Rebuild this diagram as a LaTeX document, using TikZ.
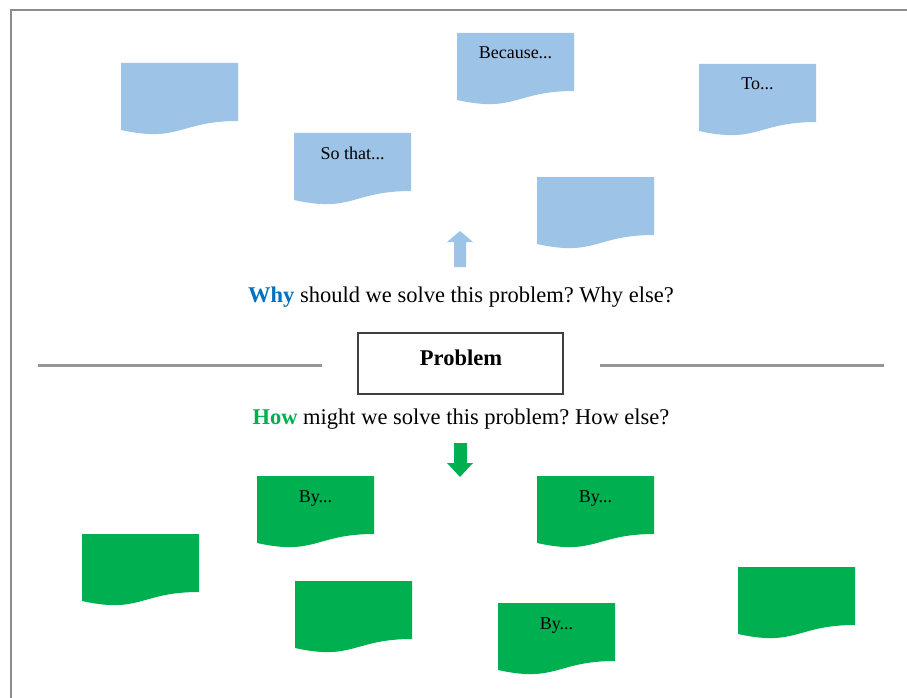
\documentclass[tikz,border=0pt]{standalone}
\usepackage{fontspec}
\setmainfont{Liberation Serif}
\usepackage{xcolor}
\usepackage{tikz}
\frenchspacing

\definecolor{whyblue}{HTML}{0070C0}
\definecolor{sheetblue}{HTML}{9DC3E6}
\definecolor{sheetgreen}{HTML}{00B050}
\definecolor{frameg}{RGB}{140,140,140}
\definecolor{lineg}{RGB}{150,150,150}

\newcommand{\docsheet}[5]{%
  \begin{scope}[shift={(#2,#3)}]
    \fill[#4] (0,0) -- (117,0) -- (117,58) .. controls (58.5,58) and (58.5,80) .. (0,67) -- cycle;
    \node[sheettext] (#1) at (58.5,26) {#5};
  \end{scope}}

\tikzset{
  sheettext/.style={anchor=base, inner sep=0pt, font=\fontsize{18}{22}\selectfont},
  bigtext/.style={anchor=base, inner sep=0pt, font=\fontsize{22.5}{27}\selectfont},
}

\begin{document}
\begin{tikzpicture}[x=1pt,y=-1pt]
  \useasboundingbox (0,0) rectangle (907,698);
  \draw[frameg, line width=2pt] (11,698) -- (11,10) -- (907,10);

  \docsheet{blueA}{121}{63}{sheetblue}{}
  \docsheet{because}{457}{33}{sheetblue}{Because...}
  \docsheet{to}{699}{64}{sheetblue}{To...}
  \docsheet{sothat}{294}{133}{sheetblue}{So that...}
  \docsheet{blueB}{537}{177}{sheetblue}{}

  \fill[sheetblue] (454,267) -- (454,242) -- (447,242) -- (460,231) -- (473,242) -- (466,242) -- (466,267) -- cycle;
  \node[bigtext] (why) at (461,302) {\textbf{\color{whyblue}Why} should we solve this problem? Why else?};

  \draw[lineg, line width=3pt] (38,365) -- (322,365);
  \draw[lineg, line width=3pt] (600,365) -- (884,365);
  \node[draw=black!75, line width=1.5pt, minimum width=205pt, minimum height=61pt, inner sep=0pt] (problem) at (460.5,363.5) {};
  \node[bigtext] (problemtext) at (461,365) {\textbf{Problem}};

  \node[bigtext] (how) at (461,424) {\textbf{\color{sheetgreen}How} might we solve this problem? How else?};
  \fill[sheetgreen] (454,443) -- (454,463) -- (447,463) -- (460,477) -- (473,463) -- (467,463) -- (467,443) -- cycle;

  \docsheet{greenA}{82}{534}{sheetgreen}{}
  \docsheet{byA}{257}{476}{sheetgreen}{By...}
  \docsheet{greenB}{295}{581}{sheetgreen}{}
  \docsheet{byB}{537}{476}{sheetgreen}{By...}
  \docsheet{byC}{498}{603}{sheetgreen}{By...}
  \docsheet{greenC}{738}{567}{sheetgreen}{}
\end{tikzpicture}
\end{document}
